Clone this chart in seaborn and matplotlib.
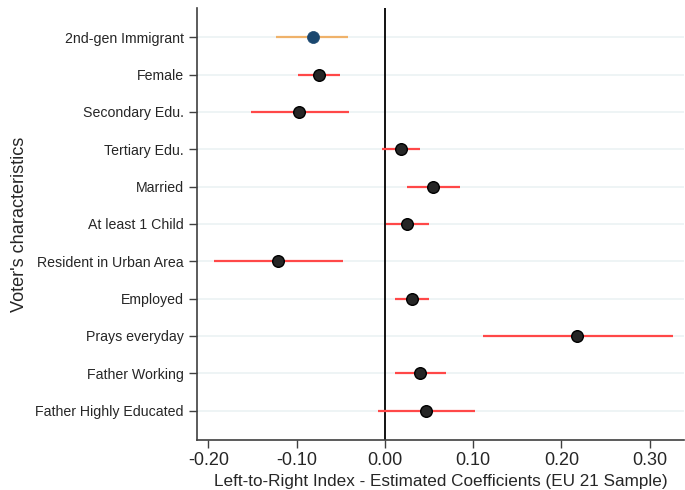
import numpy as np
import pandas as pd
import seaborn as sns
import matplotlib
matplotlib.use('Agg')
import matplotlib.pyplot as plt

labels = ['2nd-gen Immigrant', 'Female', 'Secondary Edu.', 'Tertiary Edu.', 'Married',
          'At least 1 Child', 'Resident in Urban Area', 'Employed', 'Prays everyday',
          'Father Working', 'Father Highly Educated']
coef = [-0.082, -0.075, -0.097, 0.018, 0.055, 0.025, -0.121, 0.031, 0.218, 0.040, 0.047]
ci_lo = [-0.123, -0.098, -0.152, -0.003, 0.025, 0.001, -0.194, 0.011, 0.111, 0.011, -0.008]
ci_hi = [-0.042, -0.051, -0.041, 0.040, 0.085, 0.050, -0.048, 0.050, 0.326, 0.069, 0.102]
group = ['main'] + ['other'] * 10

df = pd.DataFrame({'var': labels, 'coef': coef, 'lo': ci_lo, 'hi': ci_hi, 'group': group})
df['pos'] = np.arange(len(df))

sns.set_style('white')
plt.rcParams['font.family'] = ['Liberation Sans', 'DejaVu Sans']

fig, ax = plt.subplots(figsize=(6.85, 4.9), dpi=100)
fig.subplots_adjust(left=0.2876, right=0.9985, bottom=0.102, top=0.984)

# grid lines per row
for p in df['pos']:
    ax.axhline(p, color='#edf3f4', lw=1.3, zorder=0)

ax.axvline(0, color='black', lw=1.3, zorder=1)

ci_cols = {'main': '#efb26a', 'other': '#ff4848'}
for _, r in df.iterrows():
    ax.hlines(r['pos'], r['lo'], r['hi'], color=ci_cols[r['group']], lw=1.6, zorder=2)

sns.scatterplot(data=df[df['group'] == 'main'], x='coef', y='pos', color='#1a476f',
                s=75, edgecolor='#1a476f', linewidth=0.5, zorder=3, ax=ax, legend=False)
sns.scatterplot(data=df[df['group'] == 'other'], x='coef', y='pos', color='#262626',
                s=70, edgecolor='black', linewidth=1.0, zorder=3, ax=ax, legend=False)

ax.set_xlim(-0.213, 0.339)
ax.set_ylim(len(df) - 0.21, -0.79)
ax.set_yticks(df['pos'])
ax.set_yticklabels(df['var'], fontsize=10.2)
xt = [-0.2, -0.1, 0.0, 0.1, 0.2, 0.3]
ax.set_xticks(xt)
ax.set_xticklabels(['%.2f' % v for v in xt], fontsize=13)
ax.tick_params(axis='both', direction='out', length=6, width=1, color='#404040',
               left=True, bottom=True)
ax.tick_params(axis='x', pad=2.5)
ax.set_xlabel('Left-to-Right Index - Estimated Coefficients (EU 21 Sample)', fontsize=12.3)
ax.xaxis.label.set_va('bottom')
ax.xaxis.set_label_coords(0.5, 1 / 490, transform=fig.transFigure)
ax.xaxis.label.set_x(441 / 685)
ax.set_ylabel("Voter's characteristics", fontsize=13.1, labelpad=5)

sns.despine(ax=ax)
for s in ['left', 'bottom']:
    ax.spines[s].set_color('#404040')
    ax.spines[s].set_linewidth(1.2)

fig.savefig('out.png', dpi=100)
